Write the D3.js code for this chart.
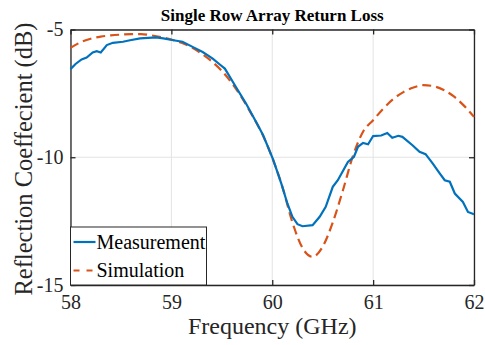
<!DOCTYPE html>
<html>
<head>
<meta charset="utf-8">
<script src="https://cdn.jsdelivr.net/npm/d3@7"></script>
<style>
  body { margin: 0; background: #fff; }
</style>
</head>
<body>
<svg id="chart"></svg>
<script>
// Measured return loss (GHz, dB)
const measFreq = [58.00, 58.05, 58.11, 58.16, 58.22, 58.26, 58.30, 58.36, 58.42, 58.52,
  58.59, 58.69, 58.85, 58.92, 59.02, 59.11, 59.21, 59.31, 59.41, 59.48,
  59.53, 59.64, 59.74, 59.84, 59.91, 60.01, 60.09, 60.15, 60.20, 60.25,
  60.30, 60.40, 60.47, 60.53, 60.60, 60.65, 60.75, 60.81, 60.85, 60.90,
  60.95, 61.00, 61.08, 61.14, 61.19, 61.25, 61.29, 61.39, 61.46, 61.52,
  61.59, 61.66, 61.71, 61.76, 61.81, 61.89, 61.94, 62.00];
const measDb = [-6.55, -6.35, -6.17, -6.10, -5.90, -5.85, -5.90, -5.61, -5.52, -5.48,
  -5.42, -5.35, -5.31, -5.35, -5.42, -5.48, -5.68, -5.88, -6.14, -6.37,
  -6.53, -7.25, -7.90, -8.62, -9.14, -10.10, -11.03, -11.81, -12.33, -12.62,
  -12.70, -12.66, -12.33, -11.94, -11.16, -10.90, -10.18, -9.98, -9.59, -9.44,
  -9.49, -9.17, -9.15, -9.05, -9.24, -9.16, -9.20, -9.53, -9.79, -9.88,
  -10.24, -10.63, -10.90, -10.96, -11.42, -11.75, -12.14, -12.23];

// Simulated return loss (GHz, dB)
const simFreq = [58.0, 58.1, 58.2, 58.3, 58.4, 58.5, 58.6, 58.7, 58.8, 58.9,
  59.0, 59.1, 59.2, 59.3, 59.4, 59.5, 59.6, 59.7, 59.8, 59.9,
  60.0, 60.1, 60.2, 60.3, 60.4, 60.5, 60.6, 60.7, 60.8, 60.9,
  61.0, 61.1, 61.2, 61.3, 61.4, 61.5, 61.6, 61.7, 61.8, 61.9, 62.0];
const simDb = [-5.72, -5.50, -5.36, -5.28, -5.23, -5.20, -5.18, -5.18, -5.23, -5.30,
  -5.39, -5.52, -5.70, -5.95, -6.25, -6.62, -7.10, -7.68, -8.35, -9.08,
  -10.02, -11.15, -12.55, -13.55, -13.90, -13.50, -12.55, -11.30, -9.95, -9.00,
  -8.55, -8.10, -7.72, -7.45, -7.27, -7.18, -7.22, -7.37, -7.62, -7.98, -8.42];

const xTicks = [58, 59, 60, 61, 62];
const yTicks = [-15, -10, -5];
const seriesNames = ['Measurement', 'Simulation'];

const FONT = 'Liberation Serif';
const width = 485, height = 345;
const margin = {top: 29.5, right: 11, bottom: 60, left: 70.5};
const innerW = width - margin.left - margin.right;
const innerH = height - margin.top - margin.bottom;

const svg = d3.select('#chart').attr('width', width).attr('height', height);
const chart = svg.append('g').attr('transform', `translate(${margin.left},${margin.top})`);

const xScale = d3.scaleLinear().domain([58, 62]).range([0, innerW]);
const yScale = d3.scaleLinear().domain([-15, -5]).range([innerH, 0]);

// Grid lines
chart.append('g').selectAll('line.gx').data(xTicks).join('line')
  .attr('x1', d => xScale(d)).attr('x2', d => xScale(d))
  .attr('y1', 0).attr('y2', innerH)
  .attr('stroke', '#e3e3e3').attr('stroke-width', 1);
chart.append('g').selectAll('line.gy').data(yTicks).join('line')
  .attr('x1', 0).attr('x2', innerW)
  .attr('y1', d => yScale(d)).attr('y2', d => yScale(d))
  .attr('stroke', '#e3e3e3').attr('stroke-width', 1);

// Axes (inward ticks, MATLAB style); plain hyphen for negatives
const fmt = d => String(d);
const xAxis = d3.axisBottom(xScale).tickValues(xTicks).tickFormat(fmt).tickSize(-5).tickPadding(10).tickSizeOuter(0);
const yAxis = d3.axisLeft(yScale).tickValues(yTicks).tickFormat(fmt).tickSize(-5).tickPadding(7).tickSizeOuter(0);
const xTop = d3.axisTop(xScale).tickValues(xTicks).tickSize(-5).tickFormat('').tickSizeOuter(0);
const yRight = d3.axisRight(yScale).tickValues(yTicks).tickSize(-5).tickFormat('').tickSizeOuter(0);

const styleAxis = g => {
  g.attr('font-family', FONT).attr('font-size', 20);
  g.select('.domain').attr('stroke', '#262626').attr('stroke-width', 1.3);
  g.selectAll('.tick line').attr('stroke', '#262626').attr('stroke-width', 1.3);
  g.selectAll('.tick text').attr('fill', '#262626');
};

chart.append('g').attr('transform', `translate(0,${innerH})`).call(xAxis).call(styleAxis);
chart.append('g').call(yAxis).call(styleAxis);
chart.append('g').call(xTop).call(styleAxis);
chart.append('g').attr('transform', `translate(${innerW},0)`).call(yRight).call(styleAxis);

// Lines
const meas = measFreq.map((f, i) => ({f, v: measDb[i]}));
const sim = simFreq.map((f, i) => ({f, v: simDb[i]}));

const lineMeas = d3.line().x(d => xScale(d.f)).y(d => yScale(d.v));
const lineSim = d3.line().x(d => xScale(d.f)).y(d => yScale(d.v)).curve(d3.curveMonotoneX);

chart.append('path').datum(sim)
  .attr('d', lineSim).attr('fill', 'none')
  .attr('stroke', '#D95319').attr('stroke-width', 2.2)
  .attr('stroke-dasharray', '9,5');
chart.append('path').datum(meas)
  .attr('d', lineMeas).attr('fill', 'none')
  .attr('stroke', '#0072BD').attr('stroke-width', 2.2);

// Title
svg.append('text')
  .attr('x', margin.left + innerW / 2).attr('y', 21)
  .attr('text-anchor', 'middle')
  .attr('font-family', FONT).attr('font-size', 17).attr('font-weight', 'bold')
  .text('Single Row Array Return Loss');

// Axis labels
svg.append('text')
  .attr('x', margin.left + innerW / 2).attr('y', 334)
  .attr('text-anchor', 'middle')
  .attr('font-family', FONT).attr('font-size', 24).attr('fill', '#262626')
  .text('Frequency (GHz)');
svg.append('text')
  .attr('transform', `translate(32,159) rotate(-90)`)
  .attr('text-anchor', 'middle')
  .attr('font-family', FONT).attr('font-size', 24.5).attr('fill', '#262626')
  .text('Reflection Coeffecient (dB)');

// Legend
const legend = chart.append('g').attr('transform', `translate(0,${innerH - 58})`);
legend.append('rect')
  .attr('x', 0).attr('y', 0).attr('width', 136).attr('height', 58)
  .attr('fill', '#fff').attr('stroke', '#262626').attr('stroke-width', 1);
const legColors = ['#0072BD', '#D95319'];
const legDash = [null, '6,7'];
seriesNames.forEach((name, i) => {
  const y = 15 + i * 28.5;
  legend.append('line')
    .attr('x1', 3).attr('x2', 25).attr('y1', y).attr('y2', y)
    .attr('stroke', legColors[i]).attr('stroke-width', 2.2)
    .attr('stroke-dasharray', legDash[i]);
  legend.append('text')
    .attr('x', 26).attr('y', y + 6.5)
    .attr('font-family', FONT).attr('font-size', 20)
    .text(name);
});
</script>
</body>
</html>
